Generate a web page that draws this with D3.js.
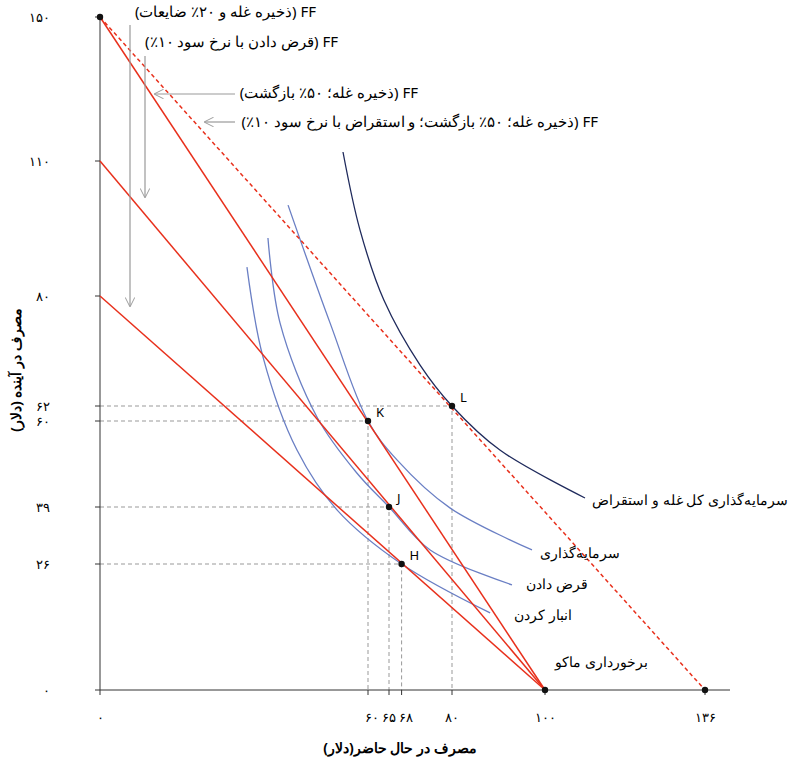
<!DOCTYPE html>
<html><head><meta charset="utf-8">
<script src="https://cdn.jsdelivr.net/npm/d3@7"></script>
<style>body{margin:0;background:#fff}text{font-family:"Noto Sans",sans-serif}</style>
</head><body><svg id="c" width="810" height="769"></svg>
<script>
const xTicks = [0, 60, 65, 68, 80, 100, 136];
const xTickLabels = ['۰', '۶۰', '۶۵', '۶۸', '۸۰', '۱۰۰', '۱۳۶'];
const yTicks = [0, 26, 39, 60, 62, 80, 110, 150];
const yTickLabels = ['۰', '۲۶', '۳۹', '۶۰', '۶۲', '۸۰', '۱۱۰', '۱۵۰'];
// feasible frontiers: [y-intercept, x-intercept, dashed]
const frontiers = [[150, 100, false], [110, 100, false], [80, 100, false], [150, 136, true]];
const points = [{n: 'H', x: 68, y: 26}, {n: 'J', x: 65, y: 39}, {n: 'K', x: 60, y: 60}, {n: 'L', x: 80, y: 62}];
const dots = [[0, 150], [100, 0], [136, 0]];
const curveStore = [[32.9,86.4],[36.5,70],[44.1,52.9],[53.1,38.3],[68,26],[88.2,15.9]];
const curveLend = [[37.6,92.9],[40.3,75.6],[48.6,60.5],[57.5,47.3],[65,39],[74.8,29.2],[92.9,21.7]];
const curveInvest = [[42.1,100.2],[51.5,75.6],[60,60],[66.9,50.5],[79.5,38.8],[97.2,29.2]];
const curveAll = [[54.4,112.5],[58.2,94.7],[63.8,79.3],[72.4,68.7],[80,62],[90.3,52.9],[109,41.2]];
const ffLabels = ['FF (ذخیره غله و ۲۰٪ ضایعات)', 'FF (قرض دادن با نرخ سود ۱۰٪)', 'FF (ذخیره غله؛ ۵۰٪ بازگشت)', 'FF (ذخیره غله؛ ۵۰٪ بازگشت؛ و استقراض با نرخ سود ۱۰٪)'];

const svg = d3.select('#c');
const x = d3.scaleLinear().domain([0, 60, 80, 100, 136]).range([100, 368, 452, 545, 705]);
const y = d3.scaleLinear().domain([0, 26, 39, 60, 62, 80, 110, 150]).range([690, 564, 507, 421, 406, 296, 161, 17]);
const red = '#e8301c';

// guides
points.forEach(p => {
  svg.append('path').attr('d', `M${x(0)},${y(p.y)}H${x(p.x)}V${y(0)}`)
    .attr('fill', 'none').attr('stroke', '#999').attr('stroke-dasharray', '4,3');
});

// axes
svg.append('line').attr('x1', x(0)).attr('x2', 730).attr('y1', y(0)).attr('y2', y(0)).attr('stroke', '#333');
svg.append('line').attr('x1', x(0)).attr('x2', x(0)).attr('y1', y(0)).attr('y2', y(150)).attr('stroke', '#333');
xTicks.forEach(t => {
  svg.append('line').attr('x1', x(t)).attr('x2', x(t)).attr('y1', y(0)).attr('y2', y(0) + 5).attr('stroke', '#333');
});
svg.append('text').attr('x', x(0)).attr('y', 722).attr('text-anchor', 'middle').attr('font-size', 13).text(xTickLabels[0]);
svg.append('text').attr('x', x(65)).attr('y', 722).attr('text-anchor', 'middle').attr('font-size', 13).text('۶۰ ۶۵ ۶۸');
[4, 5, 6].forEach(i => svg.append('text').attr('x', x(xTicks[i])).attr('y', 722).attr('text-anchor', 'middle').attr('font-size', 13).text(xTickLabels[i]));
yTicks.forEach((t, i) => {
  svg.append('line').attr('x1', x(0) - 5).attr('x2', x(0)).attr('y1', y(t)).attr('y2', y(t)).attr('stroke', '#333');
  svg.append('text').attr('x', 50).attr('y', y(t) + 5).attr('text-anchor', 'end').attr('font-size', 13).text(yTickLabels[i]);
});
svg.append('text').attr('x', 400).attr('y', 753).attr('text-anchor', 'middle').attr('font-size', 14).attr('font-weight', 'bold').text('مصرف در حال حاضر(دلار)');
svg.append('text').attr('transform', 'translate(21,370) rotate(-90)').attr('text-anchor', 'middle').attr('font-size', 14).attr('font-weight', 'bold').text('مصرف در آینده (دلار)');

// indifference curves
const line = d3.line().x(d => x(d[0])).y(d => y(d[1])).curve(d3.curveCatmullRom.alpha(0.5));
[[curveStore, '#6a7fc4'], [curveLend, '#6a7fc4'], [curveInvest, '#6a7fc4'], [curveAll, '#1f2a5c']].forEach(([c, col]) => {
  svg.append('path').attr('d', line(c)).attr('fill', 'none').attr('stroke', col).attr('stroke-width', 1.3);
});

// frontiers
frontiers.forEach(([a, b, dash]) => {
  svg.append('line').attr('x1', x(0)).attr('y1', y(a)).attr('x2', x(b)).attr('y2', y(0))
    .attr('stroke', red).attr('stroke-width', 1.5).attr('stroke-dasharray', dash ? '4,3' : null);
});

// arrows
svg.append('defs').append('marker').attr('id', 'ah').attr('viewBox', '0 0 10 10').attr('refX', 9).attr('refY', 5)
  .attr('markerWidth', 8).attr('markerHeight', 8).attr('orient', 'auto')
  .append('path').attr('d', 'M0,0L10,5L0,10').attr('fill', 'none').attr('stroke', '#999');
[[130, 25, 130, y(80) + 10], [145, 56, 145, y(110) + 36], [235, 94, 155, 94], [235, 122, 205, 122]].forEach(a => {
  svg.append('line').attr('x1', a[0]).attr('y1', a[1]).attr('x2', a[2]).attr('y2', a[3])
    .attr('stroke', '#999').attr('stroke-width', 1.2).attr('marker-end', 'url(#ah)');
});
[[316, 17], [338, 47], [418, 98], [598, 127]].forEach((p, i) => {
  svg.append('text').attr('x', p[0]).attr('y', p[1]).attr('direction', 'rtl').attr('text-anchor', 'start')
    .attr('font-size', 15).text(ffLabels[i]);
});

// points
points.forEach(p => {
  svg.append('circle').attr('cx', x(p.x)).attr('cy', y(p.y)).attr('r', 3.2).attr('fill', '#111');
  svg.append('text').attr('x', x(p.x) + 8).attr('y', y(p.y) - 4).attr('font-size', 13).text(p.n);
});
dots.forEach(d => svg.append('circle').attr('cx', x(d[0])).attr('cy', y(d[1])).attr('r', 3.2).attr('fill', '#111'));

// curve labels
[['سرمایه‌گذاری کل غله و استقراض', 788, 505], ['سرمایه‌گذاری', 620, 558], ['قرض دادن', 588, 589], ['انبار کردن', 572, 620], ['برخورداری ماکو', 648, 667]].forEach(l => {
  svg.append('text').attr('x', l[1]).attr('y', l[2]).attr('direction', 'rtl').attr('text-anchor', 'start').attr('font-size', 14).text(l[0]);
});
</script></body></html>
